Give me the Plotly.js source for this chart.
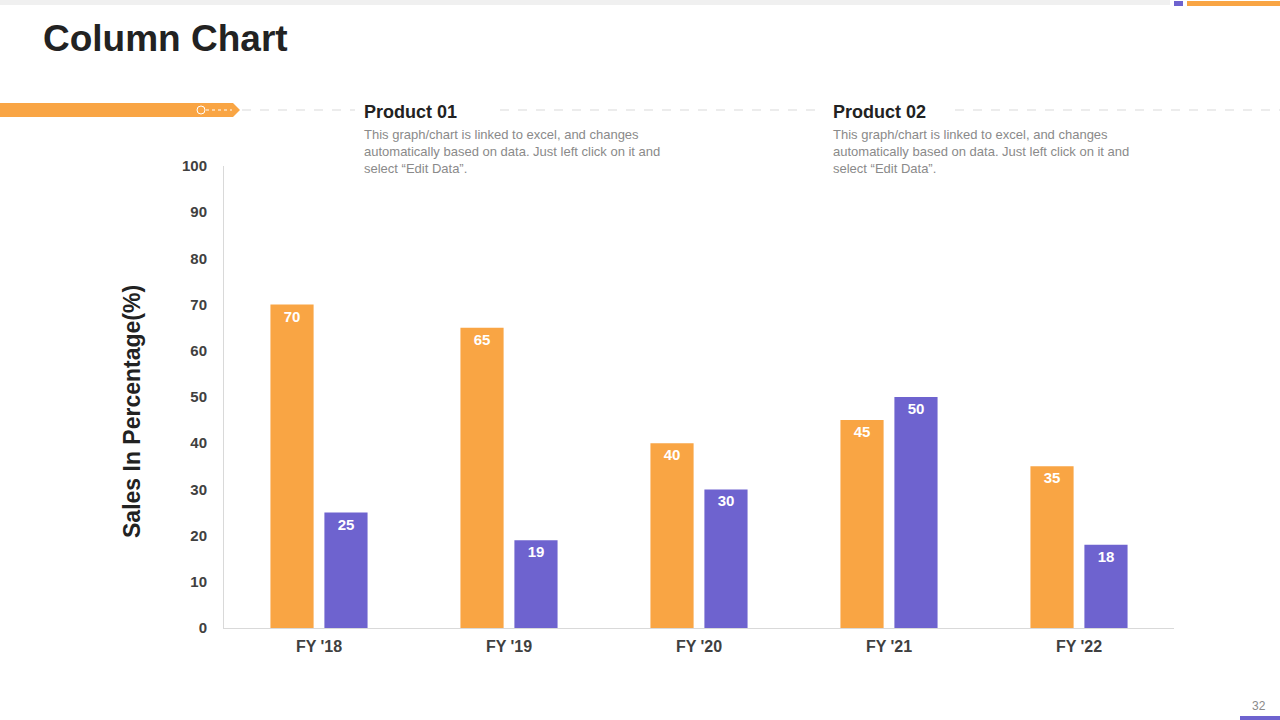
<!DOCTYPE html>
<html>
<head>
<meta charset="utf-8">
<script src="https://cdn.plot.ly/plotly-3.0.1.min.js"></script>
<style>
  html, body { margin: 0; padding: 0; background: #ffffff; }
  #chart { width: 1280px; height: 720px; }
</style>
</head>
<body>
<div id="chart"></div>
<script>
const categories = ["FY '18", "FY '19", "FY '20", "FY '21", "FY '22"];
const product01 = [70, 65, 40, 45, 35];
const product02 = [25, 19, 30, 50, 18];
const seriesNames = ["Product 01", "Product 02"];
const yTicks = [0, 10, 20, 30, 40, 50, 60, 70, 80, 90, 100];

const ORANGE = "#F9A544";
const PURPLE = "#6E63CF";
const FONT = "Liberation Sans, Arial, sans-serif";

// plot area in pixels
const L = 224, R = 1174, T = 166, B = 628;
const px = x => (x - L) / (R - L);
const py = y => (B - y) / (B - T);

const desc = "This graph/chart is linked to excel, and changes<br>automatically based on data. Just left click on it and<br>select “Edit Data”.";

const traces = [
  {
    type: "bar", name: seriesNames[0], x: categories, y: product01,
    marker: { color: ORANGE },
    text: product01.map(String), textposition: "inside", insidetextanchor: "end",
    textfont: { family: FONT, size: 15, color: "#ffffff", weight: "bold" },
    textangle: 0, hoverinfo: "skip"
  },
  {
    type: "bar", name: seriesNames[1], x: categories, y: product02,
    marker: { color: PURPLE },
    text: product02.map(String), textposition: "inside", insidetextanchor: "end",
    textfont: { family: FONT, size: 15, color: "#ffffff", weight: "bold" },
    textangle: 0, hoverinfo: "skip"
  }
];

const shapes = [
  // top grey strip
  { type: "rect", xref: "paper", yref: "paper", x0: px(0), x1: px(1170), y0: py(0), y1: py(5), fillcolor: "#F0F0F0", line: { width: 0 } },
  { type: "rect", xref: "paper", yref: "paper", x0: px(1174), x1: px(1183), y0: py(1), y1: py(6), fillcolor: PURPLE, line: { width: 0 } },
  { type: "rect", xref: "paper", yref: "paper", x0: px(1187), x1: px(1280), y0: py(1), y1: py(6), fillcolor: ORANGE, line: { width: 0 } },
  // left orange band with arrow tip
  { type: "path", xref: "paper", yref: "paper",
    path: `M ${px(0)} ${py(103)} L ${px(233)} ${py(103)} L ${px(240)} ${py(110)} L ${px(233)} ${py(117)} L ${px(0)} ${py(117)} Z`,
    fillcolor: ORANGE, line: { width: 0 } },
  { type: "circle", xref: "paper", yref: "paper", x0: px(197), x1: px(205), y0: py(106), y1: py(114), fillcolor: ORANGE, line: { color: "#ffffff", width: 1 } },
  { type: "line", xref: "paper", yref: "paper", x0: px(206), x1: px(232), y0: py(110), y1: py(110), line: { color: "#ffffff", width: 1, dash: "3px,3px" } },
  // dashed guide lines
  { type: "line", xref: "paper", yref: "paper", x0: px(242), x1: px(355), y0: py(110), y1: py(110), line: { color: "#D9D9D9", width: 1, dash: "dash" } },
  { type: "line", xref: "paper", yref: "paper", x0: px(500), x1: px(822), y0: py(110), y1: py(110), line: { color: "#D9D9D9", width: 1, dash: "dash" } },
  { type: "line", xref: "paper", yref: "paper", x0: px(955), x1: px(1280), y0: py(110), y1: py(110), line: { color: "#D9D9D9", width: 1, dash: "dash" } },
  // page number underline
  { type: "rect", xref: "paper", yref: "paper", x0: px(1240), x1: px(1280), y0: py(716), y1: py(720), fillcolor: PURPLE, line: { width: 0 } }
];

const annotations = [
  { text: "<b>Column Chart</b>", xref: "paper", yref: "paper", x: px(41), y: py(38), xanchor: "left", yanchor: "middle",
    showarrow: false, font: { family: FONT, size: 37, color: "#222222" } },
  { text: "<b>" + seriesNames[0] + "</b>", xref: "paper", yref: "paper", x: px(362), y: py(112), xanchor: "left", yanchor: "middle",
    showarrow: false, font: { family: FONT, size: 18, color: "#222222" } },
  { text: "<b>" + seriesNames[1] + "</b>", xref: "paper", yref: "paper", x: px(831), y: py(112), xanchor: "left", yanchor: "middle",
    showarrow: false, font: { family: FONT, size: 18, color: "#222222" } },
  { text: desc, xref: "paper", yref: "paper", x: px(362), y: py(125), xanchor: "left", yanchor: "top", align: "left",
    showarrow: false, font: { family: FONT, size: 13, color: "#8A8A8A" } },
  { text: desc, xref: "paper", yref: "paper", x: px(831), y: py(125), xanchor: "left", yanchor: "top", align: "left",
    showarrow: false, font: { family: FONT, size: 13, color: "#8A8A8A" } },
  { text: "<b>Sales In Percentage(%)</b>", xref: "paper", yref: "paper", x: px(132), y: py(412), textangle: -90,
    xanchor: "center", yanchor: "middle", showarrow: false, font: { family: FONT, size: 23, color: "#222222" } },
  { text: "32", xref: "paper", yref: "paper", x: px(1259), y: py(706), xanchor: "center", yanchor: "middle",
    showarrow: false, font: { family: FONT, size: 12, color: "#8A8A8A" } }
];

const layout = {
  width: 1280, height: 720,
  margin: { l: L, r: 1280 - R, t: T, b: 720 - B, pad: 0 },
  paper_bgcolor: "#ffffff", plot_bgcolor: "#ffffff",
  showlegend: false,
  barmode: "group", bargap: 0.432, bargroupgap: 0.2,
  font: { family: FONT },
  xaxis: {
    type: "category", showgrid: false, zeroline: false,
    showline: true, linecolor: "#D9D9D9", linewidth: 1,
    ticks: "", tickfont: { family: FONT, size: 16, color: "#404040", weight: "bold" },
    ticklabelstandoff: 4
  },
  yaxis: {
    range: [0, 100], tickvals: yTicks, ticktext: yTicks.map(String),
    showgrid: false, zeroline: false,
    showline: true, linecolor: "#D9D9D9", linewidth: 1,
    ticks: "", tickfont: { family: FONT, size: 15, color: "#404040", weight: "bold" },
    ticklabelstandoff: 13
  },
  shapes: shapes,
  annotations: annotations
};

Plotly.newPlot("chart", traces, layout, { displayModeBar: false, staticPlot: true });
</script>
</body>
</html>
